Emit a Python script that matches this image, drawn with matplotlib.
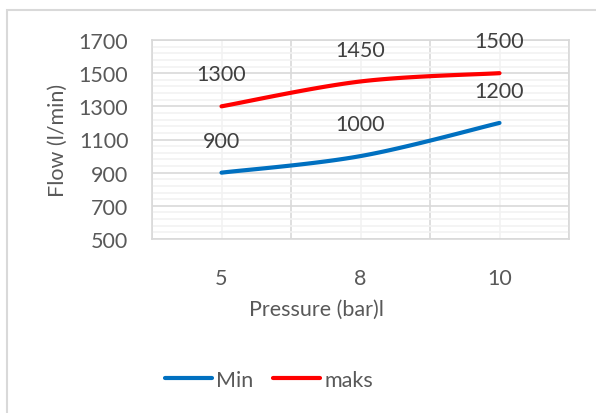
import matplotlib.pyplot as plt
import numpy as np
from matplotlib.patches import Rectangle

pressure = ['5', '8', '10']
flow_min = [900, 1000, 1200]
flow_maks = [1300, 1450, 1500]

plt.rcParams['font.family'] = ['Lato', 'DejaVu Sans']
grey = '#595959'
fs = 15.5


def smooth(xs, ys, yspan, n=40):
    # excel-style smoothed line: cubic bezier segments with catmull-rom handles
    x = np.asarray(xs, float)
    y = np.asarray(ys, float) / yspan
    px = np.concatenate([[x[0]], x, [x[-1]]])
    py = np.concatenate([[y[0]], y, [y[-1]]])
    out_x, out_y = [], []
    t = np.linspace(0, 1, n)
    for i in range(1, len(px) - 2):
        p0 = np.array([px[i], py[i]])
        p3 = np.array([px[i + 1], py[i + 1]])
        c1 = p0 + (np.array([px[i + 1], py[i + 1]]) - np.array([px[i - 1], py[i - 1]])) / 6
        c2 = p3 - (np.array([px[i + 2], py[i + 2]]) - np.array([px[i], py[i]])) / 6
        b = (np.outer((1 - t) ** 3, p0) + np.outer(3 * (1 - t) ** 2 * t, c1)
             + np.outer(3 * (1 - t) * t ** 2, c2) + np.outer(t ** 3, p3))
        out_x.extend(b[:, 0])
        out_y.extend(b[:, 1] * yspan)
    return out_x, out_y


fig = plt.figure(figsize=(5.96, 4.14), dpi=100)
ax = fig.add_axes([152 / 596, 1 - 240 / 414, 417 / 596, 199 / 414])

xpos = np.arange(len(pressure))
yspan = 1200 * 3 / 1.4
for vals, col, name in [(flow_min, '#0070C0', 'Min'), (flow_maks, '#FF0000', 'maks')]:
    sx, sy = smooth(xpos, vals, yspan)
    ax.plot(sx, sy, color=col, lw=3, solid_capstyle='round', label=name, zorder=3)
    for xi, v in zip(xpos, vals):
        ax.annotate(str(v), (xi, v), xytext=(0, 23), textcoords='offset points',
                    ha='center', va='center', fontsize=fs, color='#404040')

ax.set_xlim(-0.5, 2.5)
ax.set_ylim(500, 1700)
ax.set_xticks(xpos)
ax.set_xticklabels(pressure)
ax.set_xticks([-0.5, 0.5, 1.5, 2.5], minor=True)
ax.set_yticks(np.arange(500, 1701, 200))
ax.set_yticks(np.arange(500, 1701, 40), minor=True)

# vertical: major lines between categories, light lines at the categories
ax.grid(axis='x', which='minor', color='#D9D9D9', lw=1.2)
ax.grid(axis='x', which='major', color='#F2F2F2', lw=1.2)
ax.grid(axis='y', which='minor', color='#F2F2F2', lw=1.2)
ax.grid(axis='y', which='major', color='#D9D9D9', lw=1.2)
ax.set_axisbelow(True)
ax.tick_params(which='both', length=0, labelsize=fs, labelcolor=grey)
ax.tick_params(axis='y', pad=17)
ax.tick_params(axis='x', pad=21)
for s in ax.spines.values():
    s.set_color('#D9D9D9')
    s.set_linewidth(1.2)

fig.text(58 / 596, 1 - 140 / 414, 'Flow (l/min)', rotation=90, ha='center', va='center',
         fontsize=fs, color=grey)
fig.text(316 / 596, 1 - 310 / 414, 'Pressure (bar)l', ha='center', va='center',
         fontsize=fs, color=grey)

fig.legend(loc='center', bbox_to_anchor=(269 / 596, 1 - 381 / 414), ncol=2, frameon=False,
           fontsize=fs, labelcolor=grey, handlelength=2.2, handletextpad=0.2,
           columnspacing=0.9)

# light frame around the chart
fig.patches.append(Rectangle((7 / 596, -0.2), 1.2, 1 - 11 / 414 + 0.2, transform=fig.transFigure,
                             fill=False, edgecolor='#D9D9D9', lw=1.5))

fig.savefig('out.png', dpi=100)
